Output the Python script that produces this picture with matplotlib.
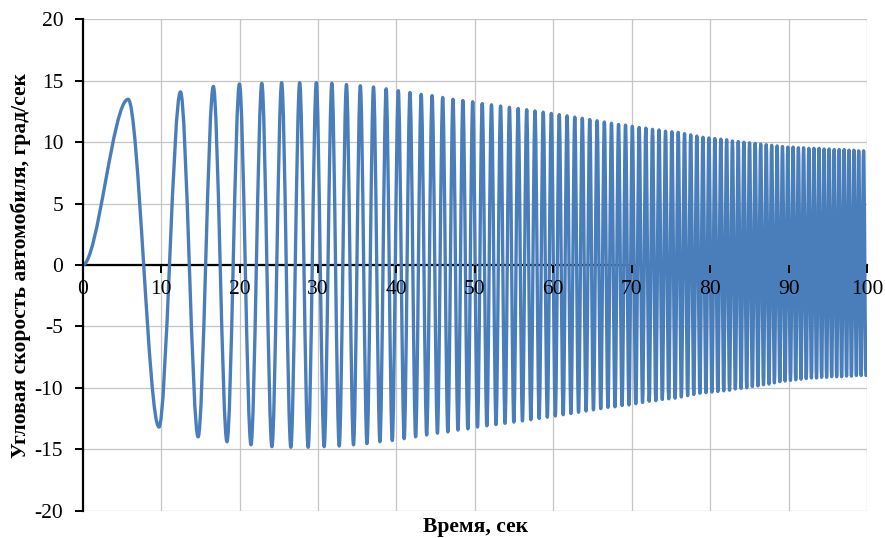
import matplotlib
matplotlib.use('Agg')
import matplotlib.pyplot as plt
import numpy as np
from matplotlib.path import Path
from matplotlib.patches import PathPatch

plt.rcParams['font.family'] = ['Liberation Serif', 'DejaVu Serif']
plt.rcParams['axes.unicode_minus'] = False

# extrema of the yaw-rate trace (time in s, value in deg/s)
peak_times = [5.80, 12.47, 16.66, 19.99, 22.84, 25.37, 27.67, 29.79, 31.77, 33.63,
              35.40, 37.08, 38.69, 40.24, 41.73, 43.16, 44.55, 45.90, 47.21, 48.48,
              49.73, 50.94, 52.12, 53.28, 54.41, 55.52, 56.61, 57.67, 58.72, 59.75,
              60.76, 61.76, 62.74, 63.70, 64.65, 65.59, 66.51, 67.42, 68.32, 69.21,
              70.08, 70.95, 71.80, 72.65, 73.48, 74.31, 75.12, 75.93, 76.73, 77.52,
              78.30, 79.08, 79.84, 80.60, 81.36, 82.10, 82.84, 83.58, 84.30, 85.02,
              85.74, 86.44, 87.15, 87.84, 88.54, 89.22, 89.90, 90.58, 91.25, 91.91,
              92.58, 93.23, 93.88, 94.53, 95.17, 95.81, 96.45, 97.08, 97.70, 98.33,
              98.94, 99.56]
peak_values = [13.5, 14.1, 14.55, 14.75, 14.8, 14.85, 14.85, 14.85, 14.8, 14.7,
               14.6, 14.5, 14.35, 14.2, 14.05, 13.9, 13.8, 13.65, 13.5, 13.4,
               13.3, 13.15, 13.05, 12.95, 12.85, 12.75, 12.65, 12.55, 12.45, 12.35,
               12.25, 12.15, 12.05, 11.95, 11.85, 11.75, 11.65, 11.55, 11.45, 11.4,
               11.3, 11.2, 11.15, 11.05, 11.0, 10.9, 10.85, 10.8, 10.7, 10.6,
               10.5, 10.4, 10.35, 10.3, 10.25, 10.2, 10.1, 10.05, 10.0, 9.95,
               9.9, 9.85, 9.8, 9.75, 9.7, 9.65, 9.6, 9.6, 9.55, 9.55,
               9.5, 9.5, 9.5, 9.45, 9.45, 9.4, 9.4, 9.4, 9.35, 9.35,
               9.3, 9.3]
trough_times = [9.73, 14.72, 18.40, 21.46, 24.13, 26.54, 28.75, 30.79, 32.71, 34.53,
                36.25, 37.90, 39.47, 40.99, 42.45, 43.86, 45.23, 46.56, 47.85, 49.11,
                50.34, 51.53, 52.70, 53.85, 54.97, 56.07, 57.14, 58.20, 59.24, 60.26,
                61.26, 62.25, 63.22, 64.18, 65.12, 66.05, 66.97, 67.87, 68.77, 69.65,
                70.52, 71.38, 72.23, 73.07, 73.90, 74.72, 75.53, 76.33, 77.13, 77.91,
                78.69, 79.46, 80.23, 80.98, 81.73, 82.47, 83.21, 83.94, 84.66, 85.38,
                86.09, 86.80, 87.50, 88.19, 88.88, 89.56, 90.24, 90.91, 91.58, 92.25,
                92.91, 93.56, 94.21, 94.85, 95.49, 96.13, 96.76, 97.39, 98.01, 98.64,
                99.25, 99.86]
trough_values = [-13.2, -14.0, -14.4, -14.65, -14.8, -14.85, -14.85, -14.8, -14.75, -14.65,
                 -14.55, -14.4, -14.3, -14.15, -14.0, -13.85, -13.7, -13.6, -13.45, -13.35,
                 -13.2, -13.1, -13.0, -12.9, -12.8, -12.7, -12.6, -12.5, -12.4, -12.3,
                 -12.2, -12.1, -12.0, -11.9, -11.8, -11.7, -11.6, -11.55, -11.45, -11.4,
                 -11.3, -11.2, -11.1, -11.05, -10.95, -10.9, -10.85, -10.75, -10.65, -10.55,
                 -10.45, -10.4, -10.35, -10.3, -10.25, -10.2, -10.1, -10.05, -10.0, -9.9,
                 -9.85, -9.75, -9.7, -9.6, -9.5, -9.45, -9.4, -9.35, -9.3, -9.25,
                 -9.2, -9.2, -9.15, -9.15, -9.1, -9.1, -9.1, -9.05, -9.05, -9.0,
                 -9.0, -9.0]

x_ticks = list(range(0, 101, 10))
y_ticks = list(range(-20, 21, 5))

# interleave peaks and troughs, trace starts at the origin
ext_t = np.empty(len(peak_times) + len(trough_times))
ext_v = np.empty_like(ext_t)
ext_t[0::2], ext_t[1::2] = peak_times, trough_times
ext_v[0::2], ext_v[1::2] = peak_values, trough_values
ext_t = np.concatenate([[0.0], ext_t])
ext_v = np.concatenate([[0.0], ext_v])

# smooth S-shaped bezier between neighbouring extrema (flat at each extremum)
verts = [(ext_t[0], ext_v[0])]
codes = [Path.MOVETO]
for i in range(1, len(ext_t)):
    x0, y0 = ext_t[i - 1], ext_v[i - 1]
    x1, y1 = ext_t[i], ext_v[i]
    d = x1 - x0
    verts += [(x0 + d / 3, y0), (x0 + 2 * d / 3, y1), (x1, y1)]
    codes += [Path.CURVE4] * 3

fig = plt.figure(figsize=(8.85, 5.38), dpi=100)
ax = fig.add_axes([0.0934, 0.0511, 0.8863, 0.9127])

# grid drawn by hand so the tick labels can sit above the trace
for x in x_ticks[1:]:
    ax.axvline(x, color='#c6c6c6', lw=0.9, zorder=0.5)
for y in y_ticks:
    ax.axhline(y, color='#c6c6c6', lw=0.9, zorder=0.5)

ax.add_patch(PathPatch(Path(verts, codes), facecolor='none', edgecolor='#4A7EBB',
                       lw=2.4, joinstyle='round', capstyle='round', zorder=2))

ax.set_xlim(0, 100)
ax.set_ylim(-20, 20)
ax.set_xticks(x_ticks)
ax.set_yticks(y_ticks)

for s in ['top', 'right']:
    ax.spines[s].set_visible(False)
ax.spines['left'].set_linewidth(1.6)
ax.spines['bottom'].set_linewidth(1.6)
ax.spines['bottom'].set_position(('data', 0))
ax.spines['bottom'].set_zorder(1.5)
ax.xaxis.set_zorder(3.5)
ax.tick_params(axis='both', direction='out', length=6, width=1.4, labelsize=15.5, colors='black')
ax.tick_params(axis='x', pad=5)
ax.tick_params(axis='y', pad=8)

fig.text(0.537, 0.021, 'Время, сек', ha='center', va='center', fontsize=15.5, fontweight='bold')
fig.text(0.024, 1 - 265 / 538, 'Угловая скорость автомобиля, град/сек', ha='center', va='center',
         rotation=90, fontsize=15.5, fontweight='bold')

fig.savefig('out.png', dpi=100)
